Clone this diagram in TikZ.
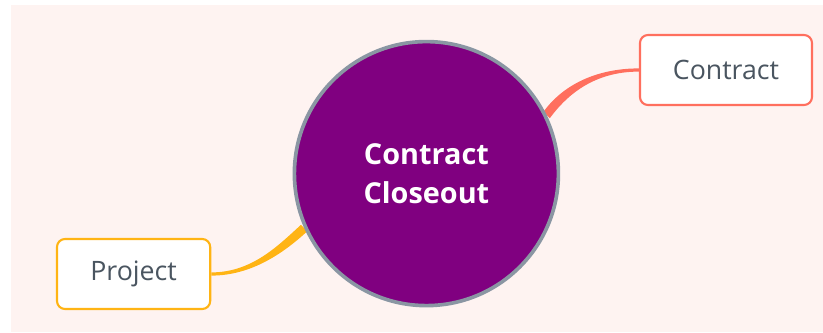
\documentclass[tikz,border=0pt]{standalone}
\usepackage{fontspec}
\setmainfont{Open Sans}
\usepackage{pgf, tikz}
\usetikzlibrary{calc}

\definecolor{bgpink}{RGB}{254,243,241}
\definecolor{hubpurple}{RGB}{128,0,128}
\definecolor{hubrim}{RGB}{138,150,163}
\definecolor{coral}{RGB}{255,111,94}
\definecolor{amber}{RGB}{255,180,20}
\definecolor{labelgray}{RGB}{74,85,96}

\pgfdeclarelayer{bg}
\pgfdeclarelayer{links}
\pgfsetlayers{bg,links,main}

\tikzset{
  hub/.style={circle, fill=hubpurple, draw=hubrim, line width=2.6pt,
    minimum size=6.6cm, inner sep=0pt, text=white, align=center,
    font=\fontsize{20.5}{27.6}\selectfont\bfseries},
  leaf/.style={rectangle, rounded corners=0.2cm, fill=white, line width=1.5pt,
    minimum height=1.75cm, text=labelgray, font=\fontsize{19}{23}\selectfont}
}

\begin{document}
\begin{tikzpicture}[scale=1.0]

\useasboundingbox (0,0) rectangle (20.575,8.3);

\begin{pgfonlayer}{bg}
\fill[bgpink] (0.275,0) rectangle (20.575,8.175);
\end{pgfonlayer}

\node[hub] (closeout) at (10.66, 3.96) {Contract\\Closeout};

\node[leaf, draw=coral, minimum width=4.3cm] (contract) at (18.15, 6.55) {Contract};
\node[leaf, draw=amber, minimum width=3.83cm] (project) at ( 3.34, 1.45) {Project};

% tapered links, thick at the hub
\begin{pgfonlayer}{links}
\fill[coral] ($(closeout.26)+(-0.08,0.08)$) .. controls +(0.55,0.75) and +(-0.95,0) .. ($(contract.west)+(0,0.04)$)
  -- ($(contract.west)+(0,-0.04)$) .. controls +(-0.95,0) and +(0.55,0.75) .. ($(closeout.26)+(0.08,-0.08)$) -- cycle;

\fill[amber] ($(project.east)+(0,0.04)$) .. controls +(1.0,0) and +(-0.6,-0.55) .. ($(closeout.204)+(-0.08,0.08)$)
  -- ($(closeout.204)+(0.08,-0.08)$) .. controls +(-0.6,-0.55) and +(1.0,0) .. ($(project.east)+(0,-0.04)$) -- cycle;
\end{pgfonlayer}

\end{tikzpicture}
\end{document}
